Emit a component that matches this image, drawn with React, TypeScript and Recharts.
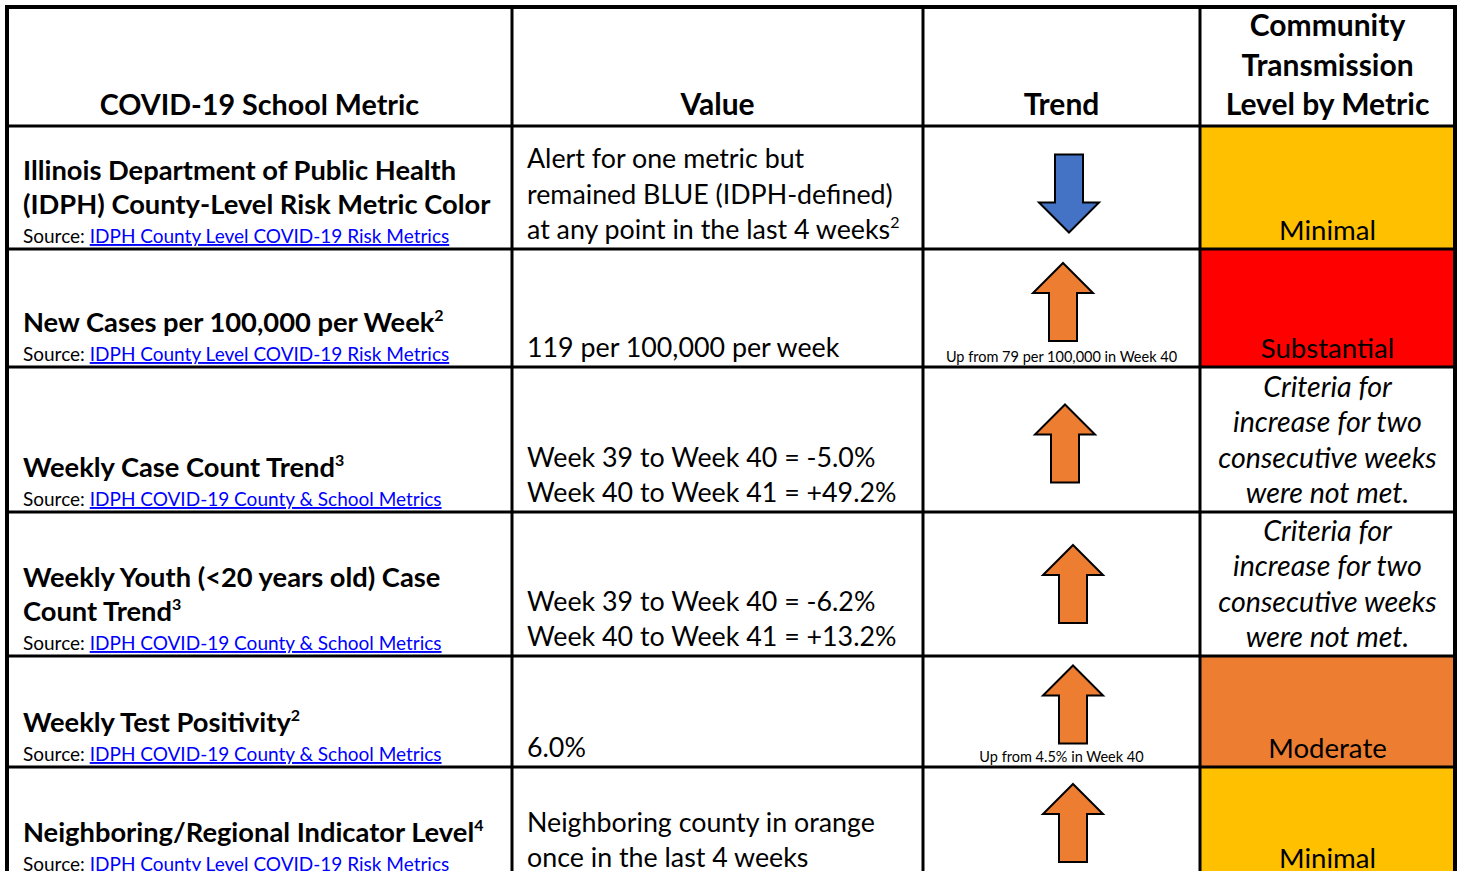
import React from 'react';
import { ComposedChart, XAxis, YAxis, Customized } from 'recharts';

// contenido de la tabla
const headers = ['COVID-19 School Metric', 'Value', 'Trend'];
const levelHeader = ['Community', 'Transmission', 'Level by Metric'];

const metricLines = [
  ['Illinois Department of Public Health', '(IDPH) County-Level Risk Metric Color'],
  ['New Cases per 100,000 per Week'],
  ['Weekly Case Count Trend'],
  ['Weekly Youth (<20 years old) Case', 'Count Trend'],
  ['Weekly Test Positivity'],
  ['Neighboring/Regional Indicator Level'],
];
const metricNotes = ['', '2', '3', '3', '2', '4'];
const sources = [
  'IDPH County Level COVID-19 Risk Metrics',
  'IDPH County Level COVID-19 Risk Metrics',
  'IDPH COVID-19 County & School Metrics',
  'IDPH COVID-19 County & School Metrics',
  'IDPH COVID-19 County & School Metrics',
  'IDPH County Level COVID-19 Risk Metrics',
];
const valueLines = [
  ['Alert for one metric but', 'remained BLUE (IDPH-defined)', 'at any point in the last 4 weeks'],
  ['119 per 100,000 per week'],
  ['Week 39 to Week 40 = -5.0%', 'Week 40 to Week 41 = +49.2%'],
  ['Week 39 to Week 40 = -6.2%', 'Week 40 to Week 41 = +13.2%'],
  ['6.0%'],
  ['Neighboring county in orange', 'once in the last 4 weeks'],
];
const valueNotes = ['2', '', '', '', '', ''];
const trendDirs = ['down', 'up', 'up', 'up', 'up', 'up'];
const trendNotes = ['', 'Up from 79 per 100,000 in Week 40', '', '', 'Up from 4.5% in Week 40', ''];
const criteria = ['Criteria for', 'increase for two', 'consecutive weeks', 'were not met.'];
const levels = [['Minimal'], ['Substantial'], criteria, criteria, ['Moderate'], ['Minimal']];
const levelColors = ['#FFC000', '#FF0000', '#FFFFFF', '#FFFFFF', '#ED7D31', '#FFC000'];

const rows = metricLines.map((m, i) => ({
  metric: m,
  note: metricNotes[i],
  source: sources[i],
  value: valueLines[i],
  valueNote: valueNotes[i],
  dir: trendDirs[i],
  trendNote: trendNotes[i],
  level: levels[i],
  color: levelColors[i],
}));

// geometria
const W = 1458;
const H = 871;
const COLS = [7, 512, 923, 1200, 1455];
const ROWS = [7, 126, 249, 367, 512, 656, 767, 877];
const ARROW_X = [1069, 1063, 1065, 1073, 1073, 1073];
const ARROW_SHIFT = [6, -6, 4, 0, -7, 1];
const FONT = 'Lato, "Open Sans", sans-serif';
const LH = 35.5;

const Arrow = ({ cx, cy, dir, fill }: { cx: number; cy: number; dir: string; fill: string }) => {
  const hw = 30, sw = 14, total = 78, head = 30;
  const s = dir === 'up' ? -1 : 1;
  const tip = cy + (s * total) / 2;
  const base = tip - s * head;
  const tail = cy - (s * total) / 2;
  const d = `M${cx} ${tip} L${cx + hw} ${base} L${cx + sw} ${base} L${cx + sw} ${tail} L${cx - sw} ${tail} L${cx - sw} ${base} L${cx - hw} ${base} Z`;
  return <path d={d} fill={fill} stroke="#000" strokeWidth={2} strokeLinejoin="miter" />;
};

const TableLayer = () => {
  const out: React.ReactNode[] = [];
  // celdas de color
  rows.forEach((r, i) => {
    out.push(
      <rect key={`bg${i}`} x={COLS[3]} y={ROWS[i + 1]} width={COLS[4] - COLS[3]} height={ROWS[i + 2] - ROWS[i + 1]} fill={r.color} />
    );
  });
  // encabezados
  headers.forEach((h, c) => {
    out.push(
      <text key={`h${c}`} x={(COLS[c] + COLS[c + 1]) / 2} y={ROWS[1] - 11} textAnchor="middle" fontSize={c === 0 ? 28.7 : 30} fontWeight={700} fill="#000">
        {h}
      </text>
    );
  });
  levelHeader.forEach((h, k) => {
    out.push(
      <text key={`lh${k}`} x={(COLS[3] + COLS[4]) / 2} y={ROWS[1] - 11 - (levelHeader.length - 1 - k) * 39.5} textAnchor="middle" fontSize={30} fontWeight={700} fill="#000">
        {h}
      </text>
    );
  });
  rows.forEach((r, i) => {
    const bottom = ROWS[i + 2];
    const top = ROWS[i + 1];
    // metrica
    const srcY = bottom - 6;
    out.push(
      <text key={`src${i}`} x={23} y={srcY} fontSize={19} fill="#000">
        Source: <tspan fill="#0000FF" textDecoration="underline">{r.source}</tspan>
      </text>
    );
    r.metric.forEach((line, k) => {
      const last = k === r.metric.length - 1;
      out.push(
        <text key={`m${i}-${k}`} x={23} y={srcY - 29 - (r.metric.length - 1 - k) * 34.5} fontSize={27.3} fontWeight={700} fill="#000">
          {line}
          {last && r.note ? <tspan dy={-11} fontSize={16}>{r.note}</tspan> : null}
        </text>
      );
    });
    // valor
    r.value.forEach((line, k) => {
      const last = k === r.value.length - 1;
      out.push(
        <text key={`v${i}-${k}`} x={527} y={bottom - 10 - (r.value.length - 1 - k) * LH} fontSize={26.8} fill="#000">
          {line}
          {last && r.valueNote ? <tspan dy={-11} fontSize={16}>{r.valueNote}</tspan> : null}
        </text>
      );
    });
    // tendencia
    out.push(
      <Arrow key={`a${i}`} cx={ARROW_X[i]} cy={(top + bottom) / 2 + ARROW_SHIFT[i]} dir={r.dir} fill={r.dir === 'up' ? '#ED7D31' : '#4472C4'} />
    );
    if (r.trendNote) {
      out.push(
        <text key={`tn${i}`} x={(COLS[2] + COLS[3]) / 2} y={bottom - 5} textAnchor="middle" fontSize={14.5} fill="#000">
          {r.trendNote}
        </text>
      );
    }
    // nivel
    const italic = r.level.length > 1;
    r.level.forEach((line, k) => {
      out.push(
        <text key={`l${i}-${k}`} x={(COLS[3] + COLS[4]) / 2} y={bottom - 9 - (r.level.length - 1 - k) * LH} textAnchor="middle" fontSize={italic ? 28.6 : 27.6} fontStyle={italic ? 'italic' : 'normal'} fill="#000">
          {line}
        </text>
      );
    });
  });
  // lineas
  ROWS.slice(1, -1).forEach((y, k) => {
    out.push(<line key={`hl${k}`} x1={COLS[0]} x2={COLS[4]} y1={y} y2={y} stroke="#000" strokeWidth={3} />);
  });
  COLS.slice(1, -1).forEach((x, k) => {
    out.push(<line key={`vl${k}`} x1={x} x2={x} y1={ROWS[0]} y2={H + 10} stroke="#000" strokeWidth={3} />);
  });
  out.push(<line key="top" x1={COLS[0] - 2} x2={COLS[4] + 2} y1={ROWS[0]} y2={ROWS[0]} stroke="#000" strokeWidth={4} />);
  out.push(<line key="left" x1={COLS[0]} x2={COLS[0]} y1={ROWS[0]} y2={H + 10} stroke="#000" strokeWidth={4} />);
  out.push(<line key="right" x1={COLS[4]} x2={COLS[4]} y1={ROWS[0]} y2={H + 10} stroke="#000" strokeWidth={4} />);
  return <g fontFamily={FONT}>{out}</g>;
};

export default function App() {
  return (
    <div style={{ position: 'absolute', left: 0, top: 0, width: W, height: H, background: '#fff' }}>
      <ComposedChart width={W} height={H} data={rows} margin={{ top: 0, right: 0, bottom: 0, left: 0 }}>
        <XAxis type="number" domain={[0, W]} hide />
        <YAxis type="number" domain={[0, H]} hide reversed />
        <Customized component={TableLayer} />
      </ComposedChart>
    </div>
  );
}
